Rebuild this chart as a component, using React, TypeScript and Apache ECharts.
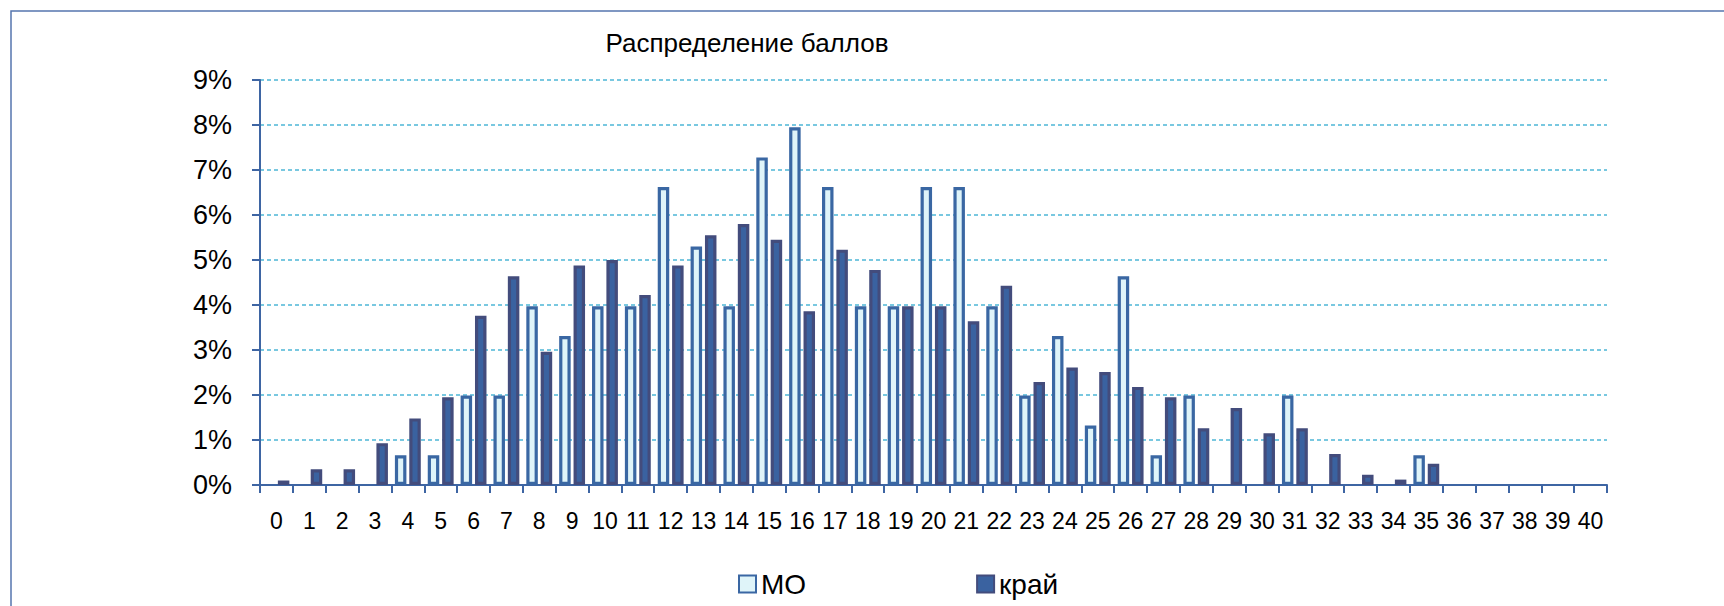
import React, { useEffect, useRef } from "react";
import * as echarts from "echarts";

const categories = Array.from({ length: 41 }, (_, i) => String(i));
const moValues = [
  0, 0, 0, 0, 0.66, 0.66, 1.99, 1.99, 3.97, 3.31,
  3.97, 3.97, 6.62, 5.3, 3.97, 7.28, 7.95, 6.62, 3.97, 3.97,
  6.62, 6.62, 3.97, 1.99, 3.31, 1.32, 4.64, 0.66, 1.99, 0,
  0, 1.99, 0, 0, 0, 0.66, 0, 0, 0, 0, 0,
];
const kraiValues = [
  0.1, 0.35, 0.35, 0.93, 1.48, 1.95, 3.76, 4.64, 2.96, 4.88,
  5.0, 4.22, 4.88, 5.55, 5.8, 5.45, 3.86, 5.23, 4.78, 3.97,
  3.97, 3.64, 4.43, 2.29, 2.61, 2.51, 2.18, 1.95, 1.26, 1.71,
  1.15, 1.26, 0.69, 0.23, 0.12, 0.47, 0, 0, 0, 0, 0,
];
const yTicks = [0, 1, 2, 3, 4, 5, 6, 7, 8, 9];
const seriesNames = ["МО", "край"];
const title = "Распределение баллов";

const FONT = "'Liberation Sans', Arial, sans-serif";
const noZero = (arr: number[]) => arr.map((v) => (v === 0 ? null : v));

export default function App() {
  const ref = useRef<HTMLDivElement>(null);
  useEffect(() => {
    document.body.style.margin = "0";
    const chart = echarts.init(ref.current!, null, { renderer: "svg" });
    chart.setOption({
      animation: false,
      backgroundColor: "#ffffff",
      title: {
        text: title,
        left: 742,
        top: 25,
        textAlign: "center",
        textStyle: { fontFamily: FONT, fontSize: 26, fontWeight: "normal", color: "#000" },
      },
      graphic: [
        {
          type: "rect",
          shape: { x: 11, y: 11, width: 1760, height: 700 },
          style: { fill: "none", stroke: "#5575AE", lineWidth: 1.5 },
          silent: true,
        },
      ],
      legend: {
        left: 733,
        top: 565,
        itemWidth: 17,
        itemHeight: 17,
        itemGap: 170,
        icon: "rect",
        textStyle: { fontFamily: FONT, fontSize: 28, color: "#000", padding: [0, 0, 0, 0] },
        data: seriesNames,
      },
      grid: { left: 260, right: 117, top: 80, bottom: 121, containLabel: false },
      xAxis: {
        type: "category",
        data: categories,
        boundaryGap: true,
        axisLine: { lineStyle: { color: "#3E65A3", width: 2 } },
        axisTick: { show: true, alignWithLabel: false, length: 8, lineStyle: { color: "#3E65A3", width: 2 } },
        axisLabel: { interval: 0, margin: 24, fontFamily: FONT, fontSize: 23, color: "#000" },
      },
      yAxis: {
        type: "value",
        min: yTicks[0],
        max: yTicks[yTicks.length - 1],
        interval: 1,
        axisLine: { show: true, lineStyle: { color: "#3E65A3", width: 2 } },
        axisTick: { show: true, length: 8, lineStyle: { color: "#3E65A3", width: 2 } },
        axisLabel: { margin: 28, formatter: "{value}%", fontFamily: FONT, fontSize: 27, color: "#000" },
        splitLine: { show: true, lineStyle: { color: "#4DB6D6", type: [4, 3], width: 1.5 } },
      },
      series: [
        {
          name: seriesNames[0],
          type: "bar",
          data: noZero(moValues),
          barWidth: 11.5,
          barGap: "25%",
          itemStyle: { color: "#DFF4F9", borderColor: "#3A67A3", borderWidth: 3.2 },
        },
        {
          name: seriesNames[1],
          type: "bar",
          data: noZero(kraiValues),
          barWidth: 11.5,
          itemStyle: { color: "#3A62A0", borderColor: "#434C7C", borderWidth: 3.2 },
        },
      ],
    });
    return () => chart.dispose();
  }, []);
  return <div ref={ref} style={{ width: 1724, height: 606 }} />;
}
